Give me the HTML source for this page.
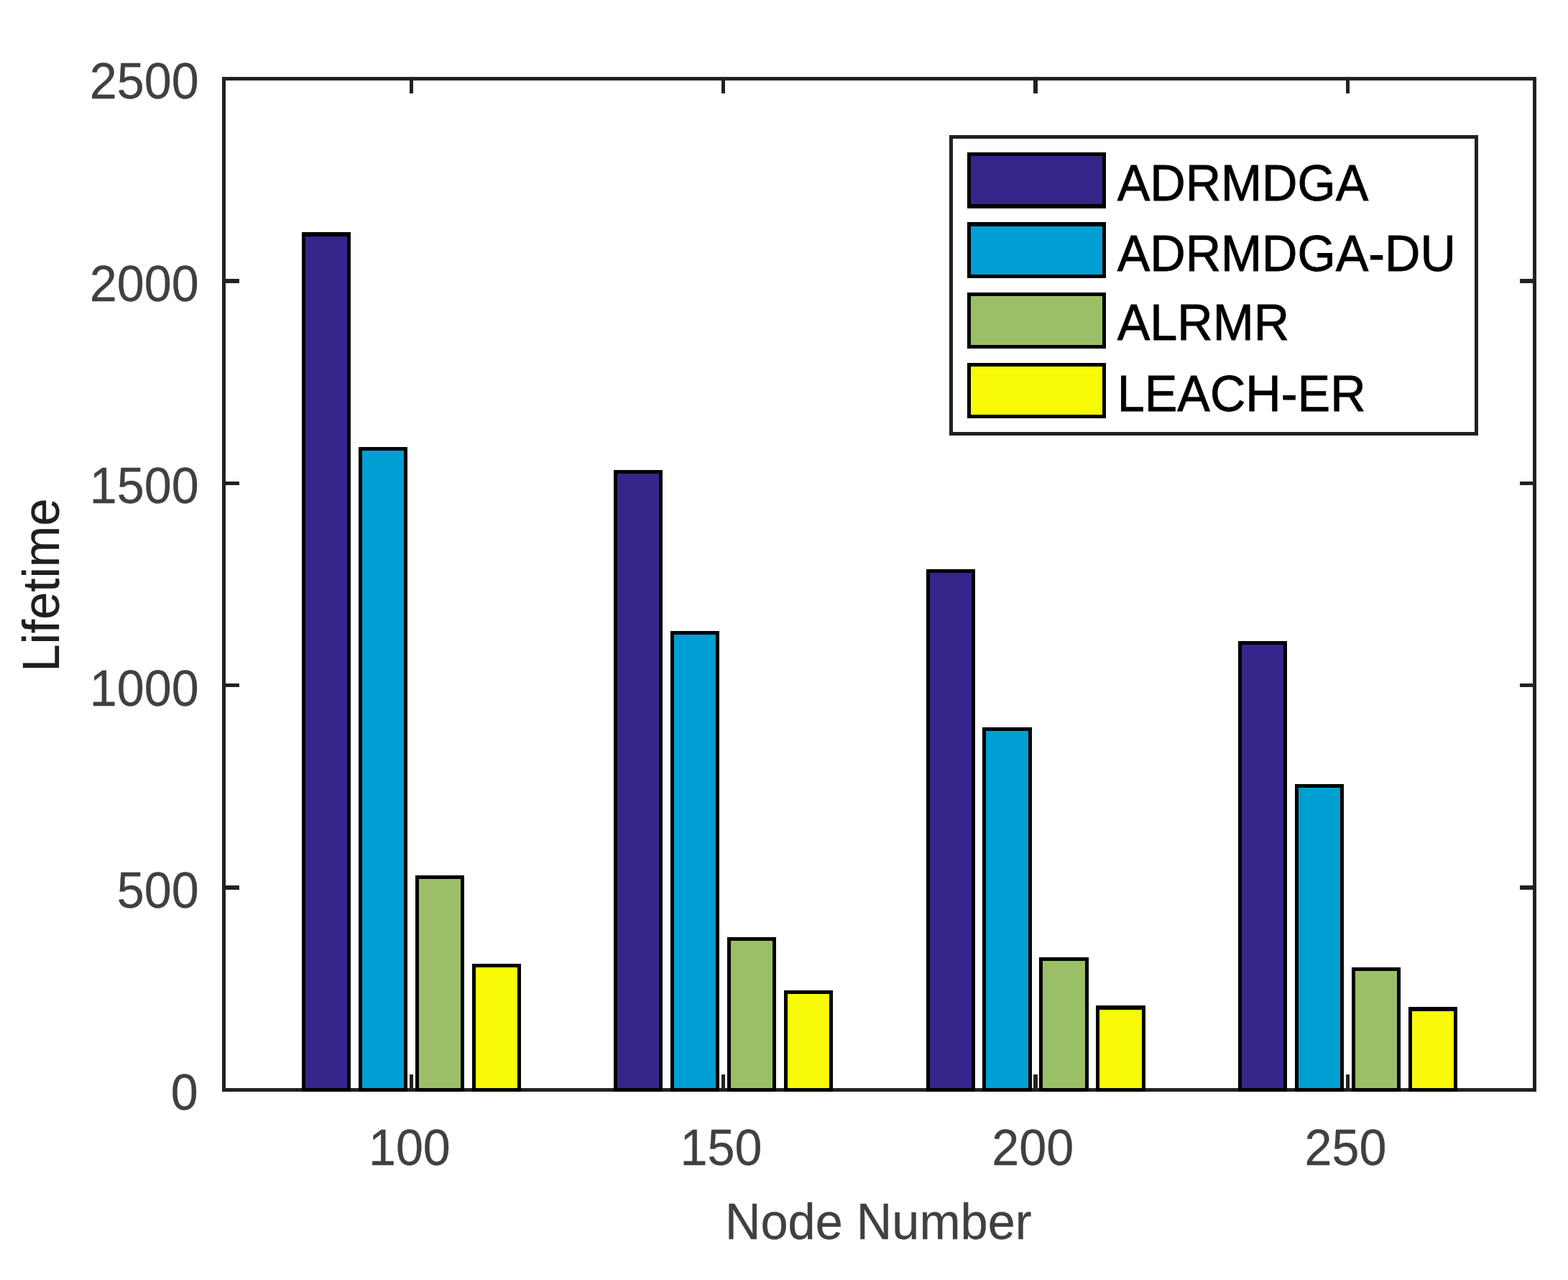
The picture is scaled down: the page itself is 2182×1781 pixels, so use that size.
<!DOCTYPE html>
<html lang="en">
<head>
<meta charset="utf-8">
<title>Lifetime vs Node Number</title>
<style>
html,body{margin:0;padding:0;background:#fff;}
body{width:2182px;height:1781px;overflow:hidden;}
svg{display:block;}
text{font-family:"Liberation Sans",sans-serif;}
.t{fill:#404040;stroke:#404040;stroke-width:0.3px;}
.y{fill:#1f1f1f;stroke:#1f1f1f;stroke-width:0.3px;}
.l{fill:#000;stroke:#000;stroke-width:0.8px;}
</style>
</head>
<body>
<svg width="2182" height="1781" viewBox="0 0 2182 1781" role="img" aria-label="Bar chart of Lifetime versus Node Number">
<rect x="0" y="0" width="2182" height="1781" fill="#fff"/>
<g shape-rendering="crispEdges">
<g fill="#212121">
<rect x="309" y="107" width="1829" height="5"/>
<rect x="309" y="1514" width="1829" height="5"/>
<rect x="309" y="107" width="5" height="1412"/>
<rect x="2133" y="107" width="5" height="1412"/>
<rect x="570" y="107" width="5" height="23"/>
<rect x="570" y="1495" width="5" height="24"/>
<rect x="1004" y="107" width="5" height="23"/>
<rect x="1004" y="1495" width="5" height="24"/>
<rect x="1438" y="107" width="6" height="23"/>
<rect x="1438" y="1495" width="6" height="24"/>
<rect x="1873" y="107" width="5" height="23"/>
<rect x="1873" y="1495" width="5" height="24"/>
<rect x="309" y="1232" width="24" height="6"/>
<rect x="2115" y="1232" width="23" height="6"/>
<rect x="309" y="951" width="24" height="5"/>
<rect x="2115" y="951" width="23" height="5"/>
<rect x="309" y="670" width="24" height="5"/>
<rect x="2115" y="670" width="23" height="5"/>
<rect x="309" y="388" width="24" height="6"/>
<rect x="2115" y="388" width="23" height="6"/>
</g>
<rect x="420" y="323" width="68" height="1196" fill="#000"/><rect x="425" y="329" width="58" height="1185" fill="#36268C"/>
<rect x="499" y="622" width="68" height="897" fill="#000"/><rect x="504" y="627" width="58" height="887" fill="#009FD3"/>
<rect x="578" y="1218" width="68" height="301" fill="#000"/><rect x="583" y="1223" width="58" height="291" fill="#9BBF67"/>
<rect x="657" y="1341" width="68" height="178" fill="#000"/><rect x="662" y="1346" width="58" height="168" fill="#F9FA05"/>
<rect x="854" y="654" width="68" height="865" fill="#000"/><rect x="859" y="659" width="58" height="855" fill="#36268C"/>
<rect x="933" y="878" width="68" height="641" fill="#000"/><rect x="938" y="883" width="58" height="631" fill="#009FD3"/>
<rect x="1012" y="1304" width="68" height="215" fill="#000"/><rect x="1017" y="1309" width="58" height="205" fill="#9BBF67"/>
<rect x="1091" y="1378" width="68" height="141" fill="#000"/><rect x="1096" y="1383" width="58" height="131" fill="#F9FA05"/>
<rect x="1289" y="792" width="68" height="727" fill="#000"/><rect x="1294" y="797" width="58" height="717" fill="#36268C"/>
<rect x="1367" y="1012" width="69" height="507" fill="#000"/><rect x="1372" y="1017" width="59" height="497" fill="#009FD3"/>
<rect x="1446" y="1332" width="69" height="187" fill="#000"/><rect x="1451" y="1337" width="59" height="177" fill="#9BBF67"/>
<rect x="1525" y="1399" width="69" height="120" fill="#000"/><rect x="1530" y="1405" width="59" height="109" fill="#F9FA05"/>
<rect x="1723" y="892" width="68" height="627" fill="#000"/><rect x="1728" y="897" width="58" height="617" fill="#36268C"/>
<rect x="1802" y="1091" width="68" height="428" fill="#000"/><rect x="1807" y="1096" width="58" height="418" fill="#009FD3"/>
<rect x="1881" y="1346" width="68" height="173" fill="#000"/><rect x="1886" y="1351" width="58" height="163" fill="#9BBF67"/>
<rect x="1960" y="1401" width="68" height="118" fill="#000"/><rect x="1965" y="1407" width="58" height="107" fill="#F9FA05"/>
<rect x="1321" y="188" width="736" height="418" fill="#212121"/><rect x="1326" y="193" width="726" height="408" fill="#fff"/>
<rect x="1346" y="212" width="193" height="78" fill="#000"/><rect x="1351" y="217" width="183" height="67" fill="#36268C"/>
<rect x="1346" y="309" width="193" height="78" fill="#000"/><rect x="1351" y="315" width="183" height="67" fill="#009FD3"/>
<rect x="1346" y="407" width="193" height="78" fill="#000"/><rect x="1351" y="412" width="183" height="68" fill="#9BBF67"/>
<rect x="1346" y="505" width="193" height="77" fill="#000"/><rect x="1351" y="510" width="183" height="67" fill="#F9FA05"/>
</g>
<text class="l" font-size="70.30" transform="translate(1554.70,278.90) scale(0.9730,1)">ADRMDGA</text>
<text class="l" font-size="70.30" transform="translate(1554.70,376.60) scale(0.9730,1)">ADRMDGA-DU</text>
<text class="l" font-size="70.30" transform="translate(1554.70,472.90) scale(0.9730,1)">ALRMR</text>
<text class="l" font-size="70.30" transform="translate(1554.70,571.50) scale(0.9730,1)">LEACH-ER</text>
<text class="t" text-anchor="end" font-size="70.00" transform="translate(275.80,1544.00) scale(0.9750,1)">0</text>
<text class="t" text-anchor="end" font-size="70.00" transform="translate(276.60,1262.60) scale(0.9750,1)">500</text>
<text class="t" text-anchor="end" font-size="70.00" transform="translate(276.60,982.20) scale(0.9750,1)">1000</text>
<text class="t" text-anchor="end" font-size="70.00" transform="translate(276.60,699.80) scale(0.9750,1)">1500</text>
<text class="t" text-anchor="end" font-size="70.00" transform="translate(276.60,419.40) scale(0.9750,1)">2000</text>
<text class="t" text-anchor="end" font-size="70.00" transform="translate(276.60,137.00) scale(0.9750,1)">2500</text>
<text class="t" text-anchor="middle" font-size="70.00" transform="translate(569.90,1621.30) scale(0.9750,1)">100</text>
<text class="t" text-anchor="middle" font-size="70.00" transform="translate(1003.50,1621.30) scale(0.9750,1)">150</text>
<text class="t" text-anchor="middle" font-size="70.00" transform="translate(1437.20,1621.30) scale(0.9750,1)">200</text>
<text class="t" text-anchor="middle" font-size="70.00" transform="translate(1872.50,1621.30) scale(0.9750,1)">250</text>
<text class="t" text-anchor="middle" font-size="70.90" transform="translate(1222.30,1723.90) scale(0.9666,1)">Node Number</text>
<text class="y" text-anchor="middle" font-size="71.60" transform="translate(81.80,814.10) rotate(-90) scale(0.9630,1)">Lifetime</text>
</svg>
</body>
</html>
